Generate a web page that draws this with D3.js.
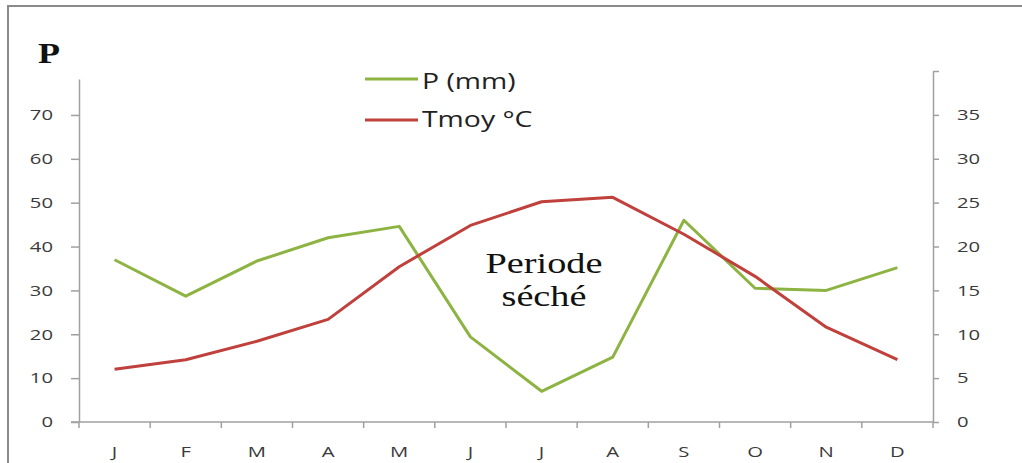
<!DOCTYPE html>
<html>
<head>
<meta charset="utf-8">
<script src="https://cdn.jsdelivr.net/npm/d3@7"></script>
<style>
  body { margin: 0; background: #fff; }
  .axis text { font-family: "Open Sans", sans-serif; font-size: 15px; fill: #3a3a3a; }
  .axis path, .axis line { stroke: #a0a0a0; stroke-width: 1.5; }
</style>
</head>
<body>
<script>
// months and series
var months = ["J", "F", "M", "A", "M", "J", "J", "A", "S", "O", "N", "D"];
var precip = [37, 28.7, 36.7, 42, 44.6, 19.4, 7, 14.8, 46, 30.5, 30, 35.2];
var temp = [6, 7.1, 9.2, 11.7, 17.7, 22.4, 25.1, 25.6, 21.4, 16.6, 10.8, 7.1];
var leftTicks = [0, 10, 20, 30, 40, 50, 60, 70];
var rightTicks = [0, 5, 10, 15, 20, 25, 30, 35];

var W = 1022, H = 463;
var x0 = 79, x1 = 933, yBase = 422;
var wide = 1.35; // the original picture is stretched sideways

// widen text glyphs in place (keeps anchor position)
function stretch(sel, k) {
  sel.each(function() {
    var w = this.getComputedTextLength();
    d3.select(this)
      .attr("textLength", w * k)
      .attr("lengthAdjust", "spacingAndGlyphs");
  });
}

var svg = d3.select("body").append("svg")
  .attr("width", W)
  .attr("height", H);

// outer frame (top + left edge of the picture)
svg.append("path")
  .attr("d", "M8," + H + "V6H" + W)
  .attr("fill", "none")
  .attr("stroke", "#8a8a8a")
  .attr("stroke-width", 2);

var x = d3.scaleBand().domain(d3.range(12)).range([x0, x1]);
var yL = d3.scaleLinear().domain([0, 78.2]).range([yBase, 79]);
var yR = d3.scaleLinear().domain([0, 40]).range([yBase, 71]);

// left axis
var gl = svg.append("g")
  .attr("class", "axis")
  .attr("transform", "translate(" + x0 + ",0)")
  .call(d3.axisLeft(yL).tickValues(leftTicks).tickSize(8).tickSizeOuter(0).tickPadding(18));

// right axis
var gr = svg.append("g")
  .attr("class", "axis")
  .attr("transform", "translate(" + x1 + ",0)")
  .call(d3.axisRight(yR).tickValues(rightTicks.concat([40])).tickSize(6).tickSizeOuter(0).tickPadding(18));
gr.selectAll(".tick").filter(function(d) { return d === 40; }).select("text").remove();

// bottom axis: ticks at the band edges
var gx = svg.append("g")
  .attr("class", "axis")
  .attr("transform", "translate(0," + yBase + ")");
gx.append("line")
  .attr("x1", x0 - 8).attr("x2", x1)
  .attr("y1", 0).attr("y2", 0);
gx.selectAll(".edge")
  .data(d3.range(13))
  .join("line")
  .attr("class", "edge")
  .attr("x1", function(i) { return x0 + i * x.bandwidth(); })
  .attr("x2", function(i) { return x0 + i * x.bandwidth(); })
  .attr("y1", 0).attr("y2", 6);
gx.selectAll(".lab")
  .data(months)
  .join("text")
  .attr("class", "lab")
  .attr("x", function(d, i) { return x(i) + x.bandwidth() / 2; })
  .attr("y", 35)
  .attr("text-anchor", "middle")
  .text(function(d) { return d; });

stretch(svg.selectAll(".axis text"), wide);

var cx = function(d, i) { return x(i) + x.bandwidth() / 2; };

svg.append("path")
  .attr("d", d3.line().x(cx).y(function(d) { return yL(d); })(precip))
  .attr("fill", "none")
  .attr("stroke", "#8db342")
  .attr("stroke-width", 3)
  .attr("stroke-linejoin", "round");

svg.append("path")
  .attr("d", d3.line().x(cx).y(function(d) { return yR(d); })(temp))
  .attr("fill", "none")
  .attr("stroke", "#c0403c")
  .attr("stroke-width", 3)
  .attr("stroke-linejoin", "round");

// legend
var legend = [
  { name: "P (mm)", color: "#8db342", y: 79, base: 89 },
  { name: "Tmoy °C", color: "#c0403c", y: 120, base: 127 }
];
var lg = svg.append("g").selectAll("g").data(legend).join("g");
lg.append("line")
  .attr("x1", 365).attr("x2", 418)
  .attr("y1", function(d) { return d.y; })
  .attr("y2", function(d) { return d.y; })
  .attr("stroke", function(d) { return d.color; })
  .attr("stroke-width", 3);
lg.append("text")
  .attr("x", 422)
  .attr("y", function(d) { return d.base; })
  .style("font-family", "'Open Sans', sans-serif")
  .style("font-size", "21px")
  .style("fill", "#222")
  .text(function(d) { return d.name; })
  .call(stretch, wide);

// axis title and annotation
svg.append("text")
  .attr("x", 38).attr("y", 63)
  .style("font-family", "'Liberation Serif', serif")
  .style("font-weight", "bold")
  .style("font-size", "30px")
  .style("fill", "#111")
  .text("P")
  .call(stretch, 1.2);

var note = [
  { t: "Periode", y: 273 },
  { t: "séché", y: 306 }
];
svg.selectAll(".note")
  .data(note)
  .join("text")
  .attr("class", "note")
  .attr("x", 544)
  .attr("y", function(d) { return d.y; })
  .attr("text-anchor", "middle")
  .style("font-family", "'Liberation Serif', serif")
  .style("font-size", "29px")
  .style("fill", "#111")
  .text(function(d) { return d.t; })
  .call(stretch, 1.32);
</script>
</body>
</html>
